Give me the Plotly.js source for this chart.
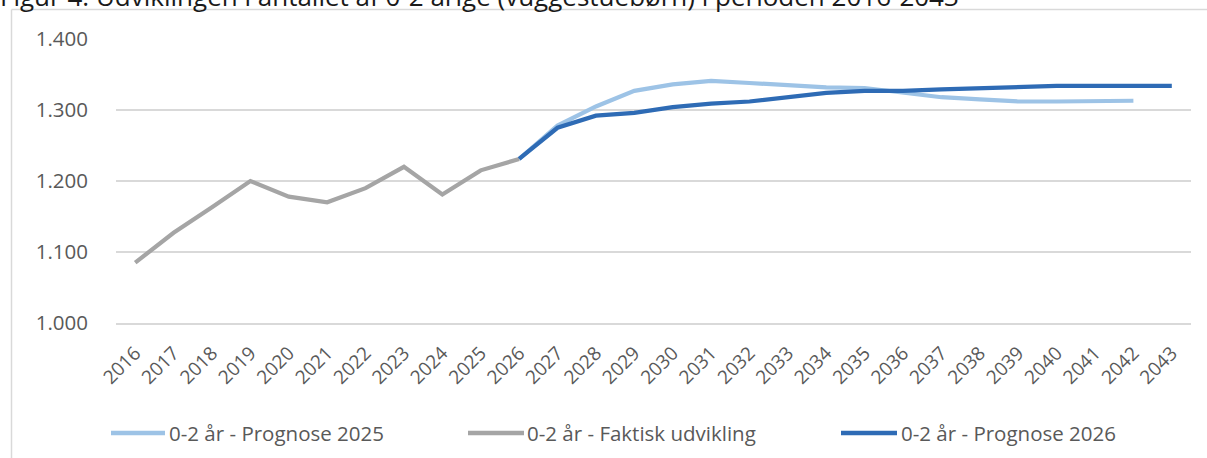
<!DOCTYPE html>
<html>
<head>
<meta charset="utf-8">
<script src="https://cdn.plot.ly/plotly-3.0.1.min.js"></script>
<style>html,body{margin:0;padding:0;background:#fff;}#chart{width:1207px;height:458px;}</style>
</head>
<body>
<div id="chart"></div>
<script>
const years = ["2016","2017","2018","2019","2020","2021","2022","2023","2024","2025","2026","2027","2028","2029","2030","2031","2032","2033","2034","2035","2036","2037","2038","2039","2040","2041","2042","2043"];
const faktisk = [1085,1127,1163,1200,1178,1170,1190,1220,1181,1215,1231,null,null,null,null,null,null,null,null,null,null,null,null,null,null,null,null,null];
const prognose2025 = [null,null,null,null,null,null,null,null,null,null,1231,1278,1305,1327,1336,1341,1338,1335,1332,1331,1324,1318,1315,1312,1312,1312,1313,null];
const prognose2026 = [null,null,null,null,null,null,null,null,null,null,1231,1275,1292,1296,1304,1309,1312,1318,1324,1327,1327,1329,1331,1333,1334,1334,1334,1334];
const seriesNames = ["0-2 år - Prognose 2025","0-2 år - Faktisk udvikling","0-2 år - Prognose 2026"];
const seriesColors = ["#9DC3E6","#A5A5A5","#2E6BB5"];
const titleText = "Figur 4. Udviklingen i antallet af 0-2 årige (vuggestuebørn) i perioden 2016-2043";

const W = 1207, H = 458;
const M = {l:116, r:16, t:39, b:135};
const PW = W - M.l - M.r, PH = H - M.t - M.b;
const px = x => (x - M.l) / PW;
const py = y => (H - M.b - y) / PH;

const FONT = '"Open Sans", sans-serif';
const LW = 4.2;

const traces = [prognose2025, faktisk, prognose2026].map((vals, i) => ({
  type: 'scatter', mode: 'lines', x: years, y: vals, name: seriesNames[i],
  line: {color: seriesColors[i], width: LW}, connectgaps: false, showlegend: false,
  hoverinfo: 'x+y'
}));

// legend (custom)
const legendItems = [
  {lx0:111, lx1:165, tx:167},
  {lx0:468, lx1:524, tx:525},
  {lx0:841, lx1:897, tx:899}
];
const legY = 433;
const shapes = [];
const annotations = [];
legendItems.forEach((it, i) => {
  shapes.push({type:'line', xref:'paper', yref:'paper', x0:px(it.lx0), x1:px(it.lx1), y0:py(legY), y1:py(legY),
    line:{color:seriesColors[i], width:4.5}});
  annotations.push({xref:'paper', yref:'paper', x:px(it.tx), y:py(legY), xanchor:'left', yanchor:'middle',
    text:seriesNames[i], showarrow:false, font:{family:FONT, size:20.5, color:'#595959'}});
});
// chart border (left and top)
shapes.push({type:'line', xref:'paper', yref:'paper', x0:px(11.5), x1:px(11.5), y0:py(9.5), y1:py(470), line:{color:'#D9D9D9', width:1.5}});
shapes.push({type:'line', xref:'paper', yref:'paper', x0:px(11.5), x1:px(1230), y0:py(9.5), y1:py(9.5), line:{color:'#D9D9D9', width:1.5}});
// title, partly cut off at the top as in the reference
annotations.push({xref:'paper', yref:'paper', x:px(-2), y:py(-4), xanchor:'left', yanchor:'middle', text:titleText,
  showarrow:false, font:{family:FONT, size:26, color:'#1A1A1A'}});

const layout = {
  width: W, height: H,
  margin: M,
  paper_bgcolor: '#fff', plot_bgcolor: '#fff',
  font: {family: FONT, size: 20.5, color: '#595959'},
  separators: ',.',
  showlegend: false,
  xaxis: {
    type: 'category', range: [-0.5, 27.5], tickangle: -45,
    showgrid: false, zeroline: false, showline: true, linecolor: '#D9D9D9', linewidth: 1.5,
    ticks: '', ticklabelstandoff: 10, tickfont: {family: FONT, size: 19, color: '#595959'}, automargin: false
  },
  yaxis: {
    range: [1000, 1400], dtick: 100, tickformat: ',d', showgrid: true, gridcolor: '#D9D9D9', gridwidth: 1.5,
    zeroline: false, showline: false, ticks: '', ticklabelstandoff: 27,
    tickfont: {family: FONT, size: 20.5, color: '#595959'}, automargin: false
  },
  shapes: shapes,
  annotations: annotations
};

Plotly.newPlot('chart', traces, layout, {displayModeBar: false, staticPlot: true});
</script>
</body>
</html>
